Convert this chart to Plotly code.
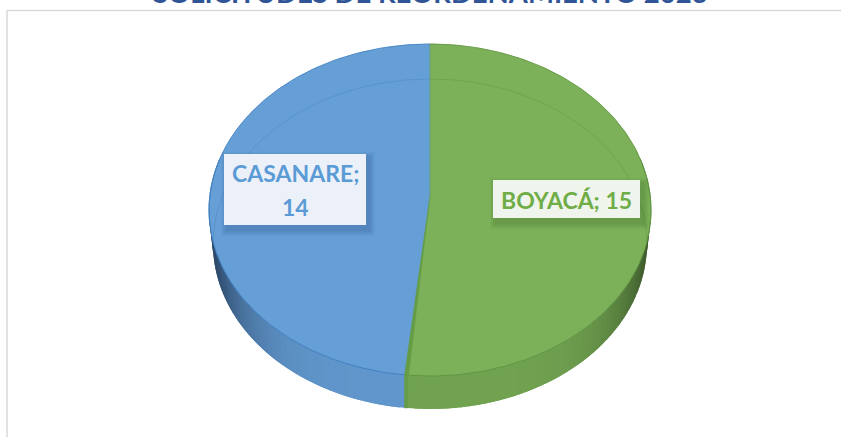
import math
import plotly.graph_objects as go

TITLE = "SOLICITUDES DE REORDENAMIENTO 2023"
categories = ["BOYACÁ", "CASANARE"]
values = [15, 14]

W, H = 841, 437
CX, CY, RX, RY = 430, 210, 221, 166      # top face of the disc
APEX_Y = 196                             # slice apex as the perspective puts it
BX, BY, BRX, BRY = 430, 244, 217, 165    # base of the disc


def top(t):
    return CX + RX * math.sin(t), CY - RY * math.cos(t)


def base(t):
    return BX + BRX * math.sin(t), BY - BRY * math.cos(t)


def mix(a, b, f):
    return "rgb(%d,%d,%d)" % tuple(round(a[i] + (b[i] - a[i]) * f) for i in range(3))


def arange(a, b, n):
    return [a + (b - a) * i / n for i in range(n + 1)]


fig = go.Figure()

total = sum(values)
split = 2 * math.pi * values[0] / total
slices = [
    dict(a=0, b=split, top="#7cb159", wall=(112, 162, 80), dark=(58, 84, 40),
         rim="#5f9442", ghost="rgba(90,140,60,0.35)", edge="#659c45"),
    dict(a=split, b=2 * math.pi, top="#669fd6", wall=(96, 150, 203), dark=(38, 62, 92),
         rim="#3f7fc0", ghost="rgba(60,120,180,0.30)", edge="#4f8cc8"),
]

# side wall, shaded strip by strip; each strip overlaps the one painted before it
for s in slices:
    lo, hi = max(s["a"], math.pi / 2), min(s["b"], 3 * math.pi / 2)
    n = 48
    ts = arange(lo, hi, n)
    order = range(n) if s["a"] == 0 else range(n - 1, -1, -1)
    for i in order:
        t0, t1 = ts[i], ts[i + 1]
        mid = (t0 + t1) / 2
        side = abs(math.sin(mid))           # 1 at the silhouette, 0 at the front
        f = side ** 5
        if s["a"] == 0:
            t0 = max(lo, t0 - 0.03)
            t1 = min(hi, t1)
        else:
            t1 = min(hi, t1 + 0.03)
        p = [top(t0), top(t1), base(t1), base(t0), top(t0)]
        c = mix(s["wall"], s["dark"], f)
        fig.add_trace(go.Scatter(x=[q[0] for q in p], y=[q[1] for q in p], mode="lines",
                                 fill="toself", fillcolor=c, line=dict(color=c, width=0),
                                 hoverinfo="skip", showlegend=False))

# top face
for s, name, val in zip(slices, categories, values):
    arc = [top(t) for t in arange(s["a"], s["b"], 180)]
    xs = [CX] + [q[0] for q in arc] + [CX]
    ys = [APEX_Y] + [q[1] for q in arc] + [APEX_Y]
    fig.add_trace(go.Scatter(x=xs, y=ys, mode="lines", fill="toself", fillcolor=s["top"],
                             line=dict(color=s["top"], width=0.5), name=name,
                             text=f"{name}; {val}", hoverinfo="text", showlegend=False))
    # rim line on the front of the disc
    front = [top(t) for t in arange(max(s["a"], math.pi * 0.4), min(s["b"], math.pi * 1.6), 90)]
    fig.add_trace(go.Scatter(x=[q[0] for q in front], y=[q[1] for q in front], mode="lines",
                             line=dict(color=s["rim"], width=1), hoverinfo="skip", showlegend=False))
    # outline of the back of the disc
    back = [top(t) for t in arange(s["a"], s["b"], 180) if math.cos(t) > -0.1]
    fig.add_trace(go.Scatter(x=[q[0] for q in back], y=[q[1] for q in back], mode="lines",
                             line=dict(color=s["rim"], width=0.8), hoverinfo="skip", showlegend=False))
    # base ellipse faintly visible through the top
    ghost = [base(t) for t in arange(s["a"], s["b"], 180) if math.cos(t) > 0]
    fig.add_trace(go.Scatter(x=[q[0] for q in ghost], y=[q[1] for q in ghost], mode="lines",
                             line=dict(color=s["ghost"], width=1), hoverinfo="skip", showlegend=False))

# green cut face beside the slice boundary
ex, ey = top(split)
bx, by = base(split)
fig.add_trace(go.Scatter(x=[CX, CX, ex + 2.5, ex - 1.5, CX], y=[44, APEX_Y, ey, ey, APEX_Y], mode="lines",
                         fill="toself", fillcolor="#659c45", line=dict(color="#659c45", width=0.6),
                         hoverinfo="skip", showlegend=False))
fig.add_trace(go.Scatter(x=[ex - 1.5, bx - 2, bx + 1, ex + 1.5, ex - 1.5], y=[ey, by, by, ey, ey], mode="lines",
                         fill="toself", fillcolor="#659c45", line=dict(color="#659c45", width=0.5),
                         hoverinfo="skip", showlegend=False))

shapes = [
    dict(type="line", xref="x", yref="y", x0=7, x1=7, y0=10.5, y1=H, line=dict(color="#d9d9d9", width=1.5), layer="below"),
    dict(type="line", xref="x", yref="y", x0=7, x1=W, y0=10.5, y1=10.5, line=dict(color="#d9d9d9", width=1.5), layer="below"),
]

boxes = [
    dict(x0=493, x1=640, y0=180, y1=218, fill="#eff4ec", shadow="rgba(60,100,40,0.05)",
         color="#70ad47", lines=[(f"{categories[0]}; {values[0]}", 199.5)]),
    dict(x0=224, x1=366, y0=154, y1=225, fill="#ecf1f9", shadow="rgba(30,80,140,0.05)",
         color="#5b9bd5", lines=[(f"{categories[1]};", 172.5), (f"{values[1]}", 207)]),
]

annotations = [
    dict(text=f"<b>{TITLE}</b>", x=430, y=10, xref="x", yref="y", xanchor="center", yanchor="bottom",
         showarrow=False, borderpad=0, font=dict(family="Lato", size=27.5, color="#2f5597")),
]
for b in boxes:
    for k in range(6, 0, -1):
        shapes.append(dict(type="rect", xref="x", yref="y", x0=b["x0"] + 3 - k, x1=b["x1"] + 3 + k,
                           y0=b["y0"] + 4 - k, y1=b["y1"] + 5 + k, line=dict(width=0),
                           fillcolor=b["shadow"], layer="above"))
    shapes.append(dict(type="rect", xref="x", yref="y", x0=b["x0"], x1=b["x1"], y0=b["y0"], y1=b["y1"],
                       line=dict(width=0), fillcolor=b["fill"], layer="above"))
    for txt, y in b["lines"]:
        annotations.append(dict(text=f"<b>{txt}</b>", x=(b["x0"] + b["x1"]) / 2, y=y, xref="x", yref="y",
                                xanchor="center", yanchor="middle", showarrow=False,
                                font=dict(family="Lato", size=23, color=b["color"])))

fig.update_layout(
    width=W, height=H, margin=dict(l=0, r=0, t=0, b=0),
    paper_bgcolor="white", plot_bgcolor="white", showlegend=False,
    xaxis=dict(range=[0, W], visible=False, fixedrange=True),
    yaxis=dict(range=[H, 0], visible=False, fixedrange=True),
    shapes=shapes, annotations=annotations,
)
fig.write_html("out.html", config=dict(displayModeBar=False),
               post_script="document.body.style.margin='0';document.documentElement.style.overflow='hidden';")
